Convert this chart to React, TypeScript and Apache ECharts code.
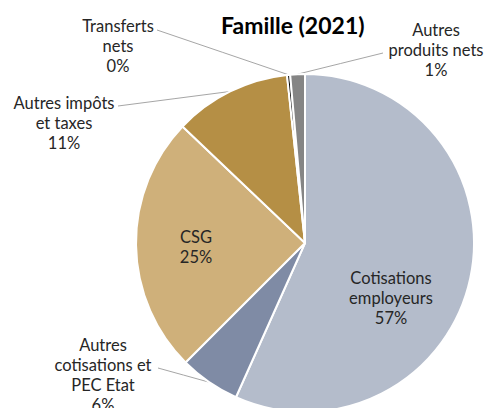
import React, { useEffect, useRef } from "react";
import * as echarts from "echarts";

const categories = [
  "Cotisations\nemployeurs",
  "Autres\ncotisations et\nPEC Etat",
  "CSG",
  "Autres impôts\net taxes",
  "Transferts\nnets",
  "Autres\nproduits nets",
];
const shares = [56.7, 5.8, 24.6, 11.2, 0.3, 1.4];
const colors = ["#b4bccb", "#7f8ba5", "#cfb07a", "#b58f45", "#000000", "#858585"];
const inside = [true, false, true, false, false, false];

// label anchor positions (layout) and leader-line text ends
const labelPos: [number, number][] = [
  [391, 298],
  [103, 375],
  [196, 247],
  [64, 123],
  [118, 46],
  [436, 50],
];
const lineEnd: ([number, number] | null)[] = [
  null,
  [158, 368],
  null,
  [118, 106],
  [157, 30],
  [383, 53],
];

export default function App() {
  const ref = useRef<HTMLDivElement>(null);
  useEffect(() => {
    if (!ref.current) return;
    const chart = echarts.init(ref.current, undefined, { renderer: "svg" });
    chart.setOption({
      animation: false,
      title: {
        text: "Famille (2021)",
        left: 216,
        top: 8,
        textStyle: { fontFamily: "Lato", fontWeight: "bold", fontSize: 23, color: "#000" },
      },
      series: [
        {
          type: "pie",
          center: [305, 243],
          radius: [0, 169],
          startAngle: 90,
          clockwise: true,
          avoidLabelOverlap: false,
          itemStyle: { borderColor: "#fff", borderWidth: 2 },
          label: {
            fontFamily: "Lato",
            fontSize: 16.5,
            lineHeight: 20,
            color: "#262626",
            align: "center",
            formatter: (p: any) => `${p.name}\n${Math.round(p.value)}%`,
          },
          labelLine: { show: true, lineStyle: { color: "#a6a6a6", width: 1 }, length: 10, length2: 10 },
          labelLayout: (params: any) => {
            const i = params.dataIndex;
            const res: any = {
              x: labelPos[i][0],
              y: labelPos[i][1],
              align: "center",
              verticalAlign: "middle",
            };
            const e = lineEnd[i];
            if (e && params.labelLinePoints) {
              const p0 = params.labelLinePoints[0];
              res.labelLinePoints = [p0, [(p0[0] + e[0]) / 2, (p0[1] + e[1]) / 2], e];
            }
            return res;
          },
          data: categories.map((name, i) => ({
            name,
            value: shares[i],
            itemStyle: { color: colors[i] },
            label: { position: inside[i] ? "inside" : "outside" },
            labelLine: { show: !inside[i] },
          })),
        },
      ],
    });
    return () => chart.dispose();
  }, []);
  return (
    <div
      ref={ref}
      style={{ position: "fixed", left: 0, top: 0, width: 486, height: 408, background: "#fff" }}
    />
  );
}
